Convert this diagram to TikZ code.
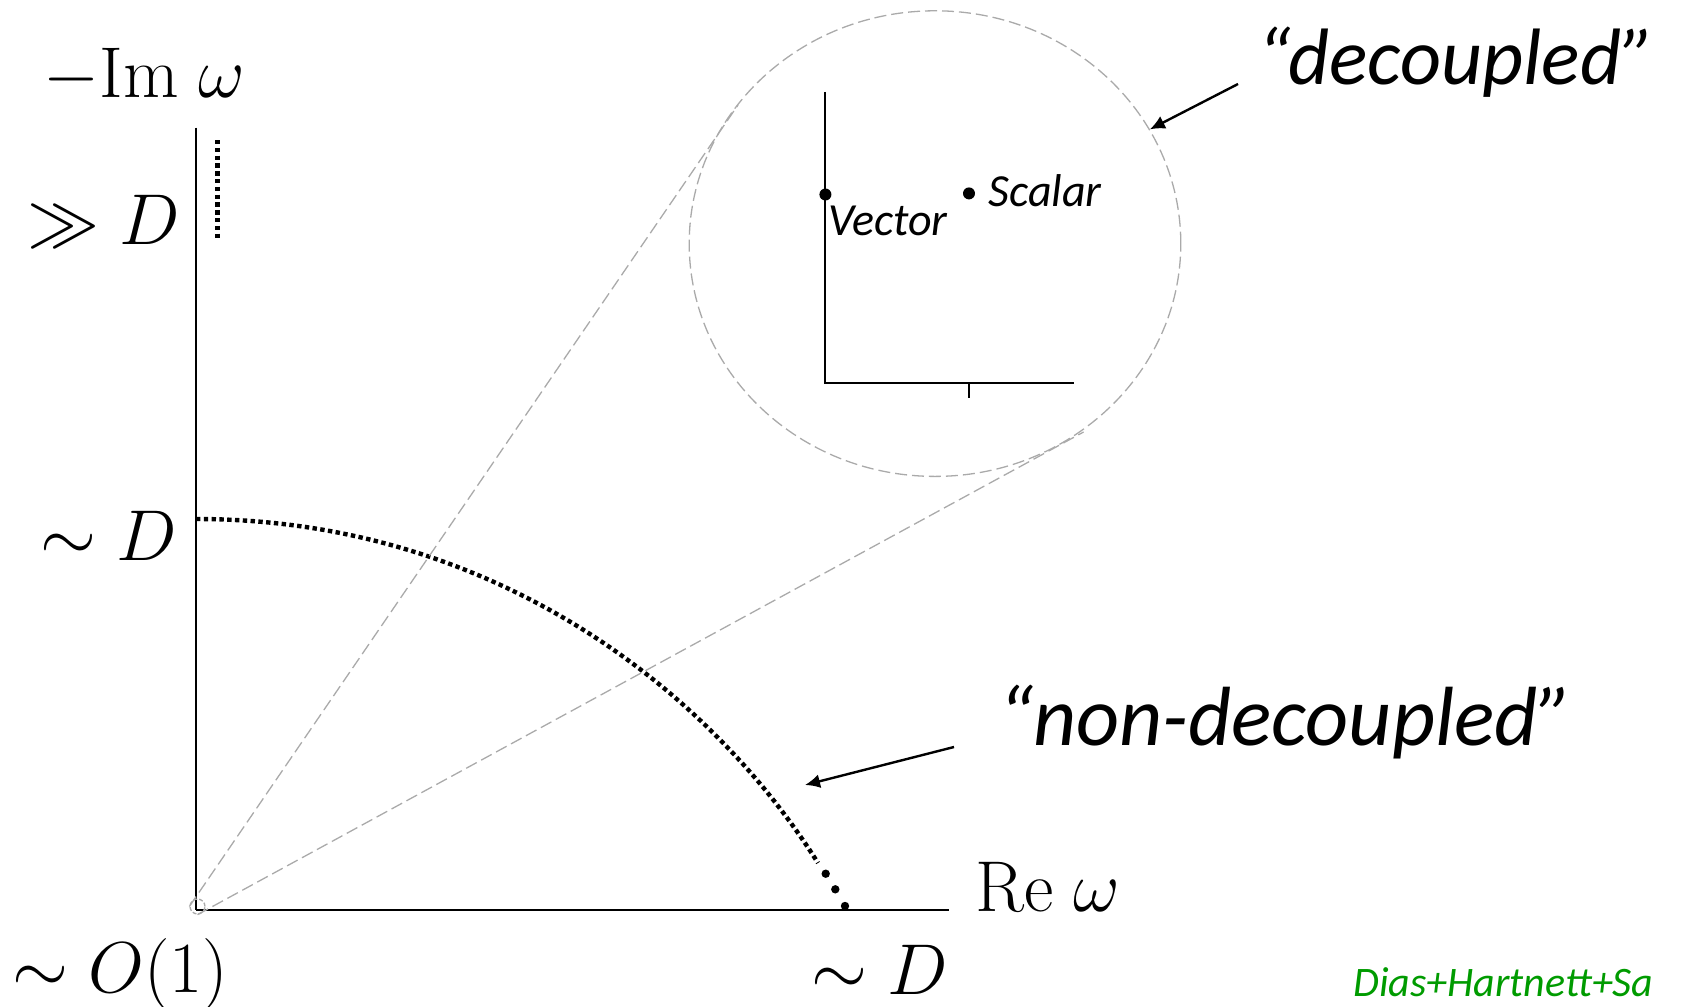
\RequirePackage{fix-cm}
\documentclass[tikz,border=0pt]{standalone}
\usepackage{amsmath, amssymb}
\usepackage{fontspec}
\usepackage{tikz}
\usetikzlibrary{arrows.meta,shapes.geometric}
\newfontfamily\carlito{Carlito}
\definecolor{callgray}{RGB}{170,170,170}
\definecolor{citegreen}{RGB}{0,155,0}

\begin{document}
\begin{tikzpicture}[x=0.5pt,y=0.5pt,yscale=-1,xscale=1,
    axisline/.style={line width=1pt},
    dotline/.style={line width=2.2pt,dash pattern=on 2.2pt off 1.7pt},
    zoomline/.style={color=callgray,line width=0.65pt,dash pattern=on 6pt off 2.5pt},
    pointer/.style={line width=1.2pt,-{Latex[length=7.5pt,width=7pt]}},
    mathlbl/.style={inner sep=0pt,font=\fontsize{36}{40}\selectfont},
    quotelbl/.style={inner sep=0pt,font=\carlito\itshape\fontsize{40}{44}\selectfont},
    ptlbl/.style={inner sep=0pt,font=\carlito\itshape\fontsize{23}{26}\selectfont},
    ptdot/.style={circle,fill=black,inner sep=0pt}]
\useasboundingbox (0,0) rectangle (1694,1007);

%Axes
\coordinate (ytop) at (196,127.5);
\coordinate (orig) at (196,910);
\coordinate (xend) at (948.6,910);
\draw [axisline] (ytop) -- (orig);
\draw [line width=1.4pt] (orig) -- (xend);

%Dotted Lines
\draw [dotline] (217.5,140) -- (217.5,238);
%Curve Lines
\draw [dotline] (196,519) .. controls (496,519) and (711.6,693.6) .. (818,863);
\fill (825.7,873.7) circle (2.1pt);
\fill (835.3,889.3) circle (2.1pt);
\fill (845,906) circle (2.1pt);

%Shape: Circle
\node [circle,draw=callgray,line width=0.65pt,dash pattern=on 2pt off 1pt,inner sep=0pt,minimum size=7.5pt] (zoomsrc) at (197.5,906.5) {};
%Shape: Ellipse
\node [ellipse,draw=callgray,line width=0.65pt,dash pattern=on 6pt off 2.5pt,inner sep=0pt,minimum width=245.8pt,minimum height=232.8pt] (zoomc) at (935,243.6) {};
%Straight Lines
\coordinate (zoomtl) at (738,105);
\coordinate (zoombr) at (1083.6,432);
\draw [zoomline] (zoomsrc.west) -- (zoomtl);
\draw [zoomline] (zoomsrc.south) -- (zoombr);

%Inset axes
\coordinate (itop) at (825.4,91.8);
\coordinate (iorig) at (825.4,382.5);
\coordinate (iend) at (1074,382.5);
\coordinate (itick) at (969,382.5);
\coordinate (itickend) at (969,397.6);
\draw [axisline] (itop) -- (iorig) -- (iend);
\draw [line width=0.8pt] (itick) -- (itickend);

\node [ptdot,minimum size=6pt] (vecpt) at (825.4,194.5) {};
\node [ptdot,minimum size=6pt] (scapt) at (969,193.4) {};
\node [ptlbl,anchor=base west] (veclbl) at (828,235.5) {Vector};
\node [ptlbl,anchor=base west] (scalbl) at (988,206) {Scalar};

%Text Node
\node [mathlbl,anchor=base west] (imlbl) at (43,97) {$-\mathrm{Im}\;\omega$};
\node [mathlbl,anchor=base east] (gglbl) at (180,244) {$\gg D$};
\node [mathlbl,anchor=base east] (simDy) at (177,560) {$\sim D$};
\node [mathlbl,anchor=base west] (simO) at (12,992) {$\sim O(1)$};
\node [mathlbl,anchor=base west] (simDx) at (811,994) {$\sim D$};
\node [mathlbl,anchor=base west] (relbl) at (975,911) {$\mathrm{Re}\;\omega$};

\node [quotelbl,anchor=base west] (declbl) at (1257,84) {“decoupled”};
\node [quotelbl,anchor=base west,font=\carlito\itshape\fontsize{42}{46}\selectfont] (nondeclbl) at (998,745.5) {“non-decoupled”};

%Arrows
\coordinate (decfrom) at (1238,84);
\coordinate (nondecfrom) at (954,747);
\coordinate (nondecto) at (805,785);
\draw [pointer] (decfrom) -- (zoomc.28);
\draw [pointer] (nondecfrom) -- (nondecto);

\node [anchor=base west,inner sep=0pt,font=\carlito\itshape\fontsize{21}{24}\selectfont,text=citegreen] (citelbl) at (1353,996) {Dias+Hartnett+Sa};
\end{tikzpicture}
\end{document}
